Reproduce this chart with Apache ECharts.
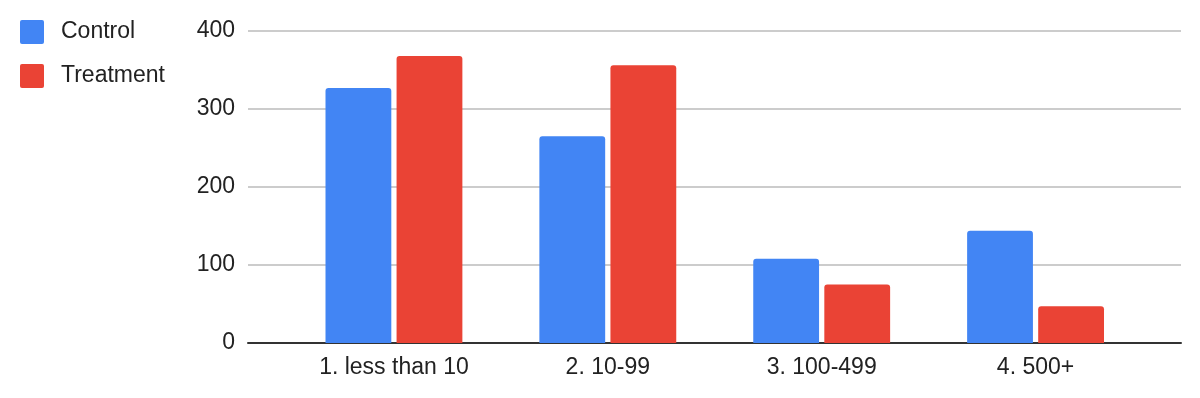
<!DOCTYPE html>
<html>
<head>
<meta charset="utf-8">
<script src="https://cdn.jsdelivr.net/npm/echarts@6/dist/echarts.min.js"></script>
<style>html,body{margin:0;padding:0;background:#fff}#c{width:1200px;height:398px}</style>
</head>
<body>
<div id="c"></div>
<script>
var categories = ['1. less than 10', '2. 10-99', '3. 100-499', '4. 500+'];
var controlValues = [327, 265, 108, 144];
var treatmentValues = [368, 356, 75, 47];
var yTicks = [0, 100, 200, 300, 400];

var font = 'Liberation Sans, Arial, sans-serif';
var sq = 'path://M2,0H22A2,2 0 0 1 24,2V22A2,2 0 0 1 22,24H2A2,2 0 0 1 0,22V2A2,2 0 0 1 2,0Z';
var chart = echarts.init(document.getElementById('c'));
chart.setOption({
  animation: false,
  backgroundColor: '#fff',
  color: ['#4285F4', '#EA4335'],
  legend: {
    orient: 'vertical', left: 20, top: 20, padding: 0,
    itemWidth: 24, itemHeight: 24, itemGap: 20,
    icon: sq,
    textStyle: { fontSize: 23, color: '#222', fontFamily: font, padding: [2, 0, 0, 12] },
    data: ['Control', 'Treatment']
  },
  grid: [
    { left: 248, right: 19, top: 31, bottom: 55 },
    { left: 287, right: 57.5, top: 31, bottom: 55 }
  ],
  xAxis: [
    { gridIndex: 0, type: 'value', min: 0, max: 1,
      axisLine: { show: true, lineStyle: { color: '#333', width: 2 } },
      axisTick: { show: false }, axisLabel: { show: false }, splitLine: { show: false } },
    { gridIndex: 1, type: 'category', data: categories,
      axisLine: { show: false }, axisTick: { show: false },
      axisLabel: { fontSize: 23, color: '#222', fontFamily: font, margin: 13 } }
  ],
  yAxis: [
    { gridIndex: 0, type: 'value', min: yTicks[0], max: yTicks[yTicks.length - 1], interval: 100,
      axisLine: { show: false }, axisTick: { show: false },
      axisLabel: { fontSize: 23, color: '#222', fontFamily: font, margin: 13, padding: [4, 0, 0, 0] },
      splitLine: { lineStyle: { color: '#cccccc', width: 2 } } },
    { gridIndex: 1, type: 'value', min: 0, max: 400, show: false, splitLine: { show: false } }
  ],
  series: [
    { name: 'Control', type: 'bar', xAxisIndex: 1, yAxisIndex: 1, data: controlValues,
      barGap: '8%', barCategoryGap: '36%', itemStyle: { borderRadius: [3, 3, 0, 0] } },
    { name: 'Treatment', type: 'bar', xAxisIndex: 1, yAxisIndex: 1, data: treatmentValues,
      barGap: '8%', barCategoryGap: '36%', itemStyle: { borderRadius: [3, 3, 0, 0] } }
  ]
});
</script>
</body>
</html>
